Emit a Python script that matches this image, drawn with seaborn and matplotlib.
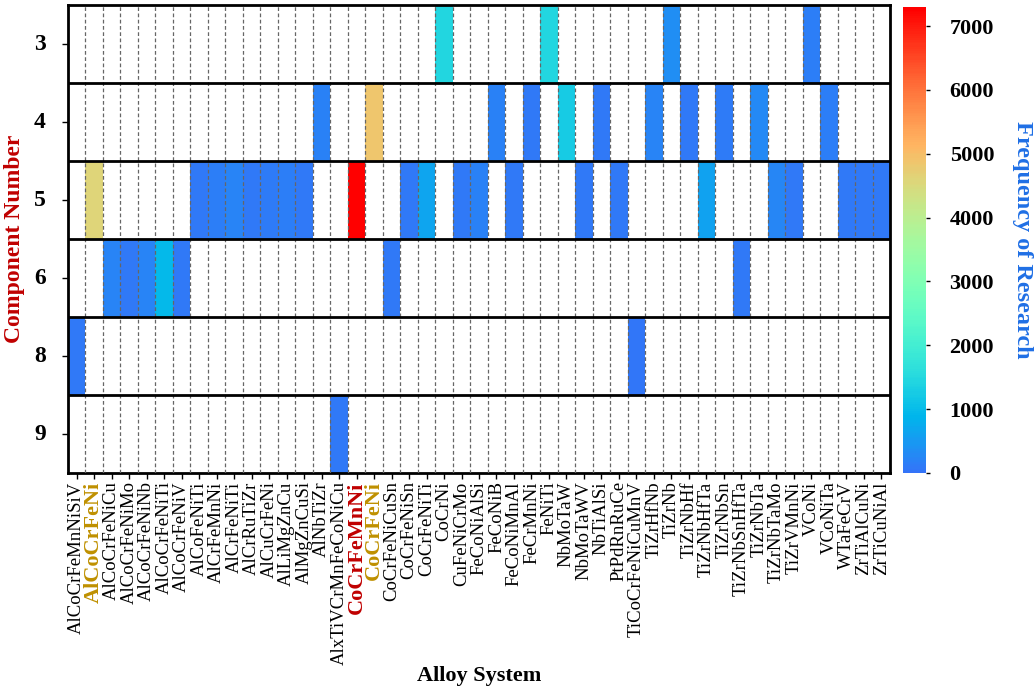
import numpy as np
import pandas as pd
import matplotlib
matplotlib.use("Agg")
import matplotlib.pyplot as plt
from matplotlib.colors import ListedColormap
import seaborn as sns

# alloy systems along the x axis
alloys = ["AlCoCrFeMnNiSiV", "AlCoCrFeNi", "AlCoCrFeNiCu", "AlCoCrFeNiMo", "AlCoCrFeNiNb",
          "AlCoCrFeNiTi", "AlCoCrFeNiV", "AlCoFeNiTi", "AlCrFeMnNi", "AlCrFeNiTi",
          "AlCrRuTiZr", "AlCuCrFeNi", "AlLiMgZnCu", "AlMgZnCuSi", "AlNbTiZr",
          "AlxTiVCrMnFeCoNiCu", "CoCrFeMnNi", "CoCrFeNi", "CoCrFeNiCuSn", "CoCrFeNiSn",
          "CoCrFeNiTi", "CoCrNi", "CuFeNiCrMo", "FeCoNiAlSi", "FeCoNiB",
          "FeCoNiMnAl", "FeCrMnNi", "FeNiTi", "NbMoTaW", "NbMoTaWV",
          "NbTiAlSi", "PtPdRnRuCe", "TiCoCrFeNiCuMnV", "TiZrHfNb", "TiZrNb",
          "TiZrNbHf", "TiZrNbHfTa", "TiZrNbSn", "TiZrNbSnHfTa", "TiZrNbTa",
          "TiZrNbTaMo", "TiZrVMnNi", "VCoNi", "VCoNiTa", "WTaFeCrV",
          "ZrTiAlCuNi", "ZrTiCuNiAl"]
# number of components of each alloy (row of the heatmap)
components = [8, 5, 6, 6, 6, 6, 6, 5, 5, 5,
              5, 5, 5, 5, 4, 9, 5, 4, 6, 5,
              5, 3, 5, 5, 4, 5, 4, 3, 4, 5,
              4, 5, 8, 4, 3, 4, 5, 4, 6, 4,
              5, 5, 3, 4, 5, 5, 5]
# frequency of research (estimated from colours)
frequency = [60, 4600, 200, 100, 200, 950, 80, 60, 150, 200,
             90, 120, 150, 70, 180, 60, 7300, 4850, 60, 60,
             650, 1450, 70, 180, 180, 100, 60, 1450, 1250, 100,
             70, 60, 40, 200, 350, 60, 600, 120, 60, 300,
             250, 80, 150, 150, 60, 70, 80]
row_levels = [3, 4, 5, 6, 8, 9]
highlight = {"AlCoCrFeNi": "#BF9000", "CoCrFeNi": "#BF9000", "CoCrFeMnNi": "#C00000"}

df = pd.DataFrame({"alloy": alloys, "comp": components, "freq": frequency})
mat = df.pivot(index="comp", columns="alloy", values="freq").reindex(index=row_levels, columns=alloys)

cmap = ListedColormap(plt.cm.rainbow(np.linspace(0.15, 1.0, 256)))

plt.rcParams["font.family"] = ["Liberation Serif", "DejaVu Serif"]

fig = plt.figure(figsize=(10.35, 6.93), dpi=100)
ax = fig.add_axes([68 / 1035, 220 / 693, 822 / 1035, 468 / 693])
cax = fig.add_axes([903 / 1035, 220 / 693, 23 / 1035, 466 / 693])

sns.heatmap(mat, mask=mat.isna(), cmap=cmap, vmin=0, vmax=7300, ax=ax, cbar_ax=cax,
            cbar_kws={"ticks": range(0, 8000, 1000)})

n_cols = len(alloys)
for x in range(1, n_cols):
    ax.axvline(x, color="#666666", ls=(0, (3, 2)), lw=0.9, zorder=3)
for y in range(1, len(row_levels)):
    ax.axhline(y, color="black", lw=2, zorder=4)
for sp in ax.spines.values():
    sp.set_visible(True)
    sp.set_linewidth(2)
    sp.set_color("black")

ax.set_xticks(np.arange(n_cols) + 0.5)
ax.set_xticklabels(alloys, rotation=90, fontsize=13.5)
for lab in ax.get_xticklabels():
    t = lab.get_text()
    if t in highlight:
        lab.set_color(highlight[t])
        lab.set_fontweight("bold")
        lab.set_fontsize(16)
ax.set_yticks(np.arange(len(row_levels)) + 0.5)
ax.set_yticklabels([str(r) for r in row_levels], rotation=0, fontsize=17, fontweight="bold")
ax.tick_params(axis="both", direction="out", length=4, width=1, color="black")
ax.tick_params(axis="x", pad=2)
ax.tick_params(axis="y", pad=12)

ax.set_xlabel("Alloy System", fontsize=16, fontweight="bold", va="center")
ax.xaxis.set_label_coords(0.5, (473 - 676) / 468)
ax.set_ylabel("Component Number", fontsize=17, fontweight="bold", color="#C00000", va="center")
ax.yaxis.set_label_coords((15 - 68) / 822, 0.5)

cbar = ax.collections[0].colorbar
cbar.outline.set_visible(False)
cax.tick_params(labelsize=16, length=3, width=1, pad=14)
for lab in cax.get_yticklabels():
    lab.set_fontweight("bold")
cbar.set_label("Frequency of Research", fontsize=17.5, fontweight="bold", color="#1F6FE5",
               rotation=270, va="center")
cax.yaxis.set_label_coords((1022 - 903) / 23, 0.5)

plt.savefig("out.png", dpi=100)
